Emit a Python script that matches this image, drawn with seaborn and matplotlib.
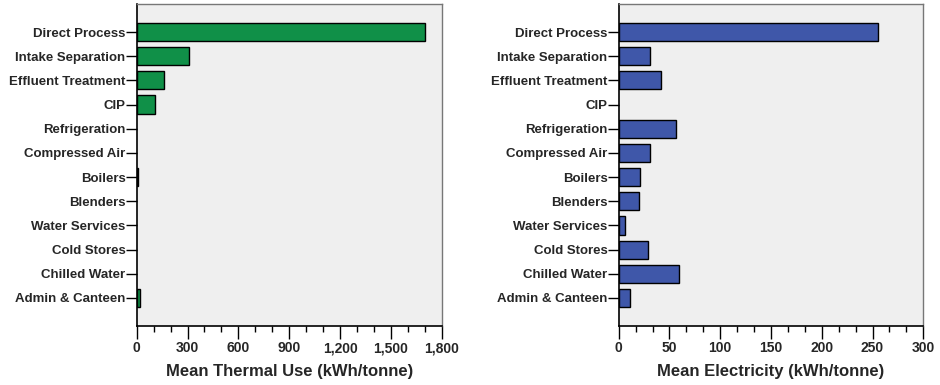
import matplotlib
matplotlib.use("Agg")
import matplotlib.pyplot as plt
import seaborn as sns
import pandas as pd
from matplotlib.ticker import MultipleLocator, FuncFormatter

categories = ["Direct Process", "Intake Separation", "Effluent Treatment", "CIP",
              "Refrigeration", "Compressed Air", "Boilers", "Blenders",
              "Water Services", "Cold Stores", "Chilled Water", "Admin & Canteen"]
thermal = [1701, 310, 164, 107, 0, 0, 10, 0, 0, 0, 0, 22]
electricity = [255.7, 31, 41.4, 0, 56.4, 30.5, 20.7, 19.7, 6.5, 28.6, 59, 11.5]

sns.set_theme(style="white")
plt.rcParams['font.family'] = ['Liberation Sans', 'DejaVu Sans']
plt.rcParams['font.weight'] = 'bold'

df = pd.DataFrame({"category": categories, "thermal": thermal, "electricity": electricity})

fig = plt.figure(figsize=(9.4, 3.85), dpi=100)
ax1 = fig.add_axes([136.7/940, 59/385, 305/940, 322/385])
ax2 = fig.add_axes([618.7/940, 59/385, 304.6/940, 322/385])

specs = [
    (ax1, "thermal", "#109048", "Mean Thermal Use (kWh/tonne)", 1800, 300, 100),
    (ax2, "electricity", "#3f57a9", "Mean Electricity (kWh/tonne)", 300, 50, 50/3),
]
for ax, col, color, xlabel, xmax, major, minor in specs:
    sns.barplot(data=df, x=col, y="category", order=categories, color=color,
                width=0.75, edgecolor="black", linewidth=1.0, saturation=1, ax=ax)
    for p in ax.patches:
        if p.get_width() == 0:
            p.set_linewidth(0)
    ax.set_facecolor("#efefef")
    ax.set_xlim(0, xmax)
    ax.set_ylim(12.16, -1.16)
    ax.xaxis.set_major_locator(MultipleLocator(major))
    ax.xaxis.set_minor_locator(MultipleLocator(minor))
    ax.xaxis.set_major_formatter(FuncFormatter(lambda v, p: f"{int(round(v)):,}"))
    ax.tick_params(axis="x", which="major", direction="out", length=9, width=1,
                   color="black", labelsize=10, pad=2, bottom=True)
    ax.tick_params(axis="x", which="minor", direction="out", length=4, width=1,
                   color="black", bottom=True)
    ax.tick_params(axis="y", direction="out", length=8, width=1, color="black",
                   labelsize=9.5, pad=0, left=True)
    for lab in ax.get_xticklabels() + ax.get_yticklabels():
        lab.set_fontweight("bold")
    ax.set_xlabel(xlabel, fontsize=12, fontweight="bold", labelpad=6)
    ax.set_ylabel("")
    for s in ["left", "bottom"]:
        ax.spines[s].set_color("black")
        ax.spines[s].set_linewidth(1.2)
    for s in ["top", "right"]:
        ax.spines[s].set_color("#777777")
        ax.spines[s].set_linewidth(1.0)

fig.savefig("out.png", dpi=100, facecolor="white")
